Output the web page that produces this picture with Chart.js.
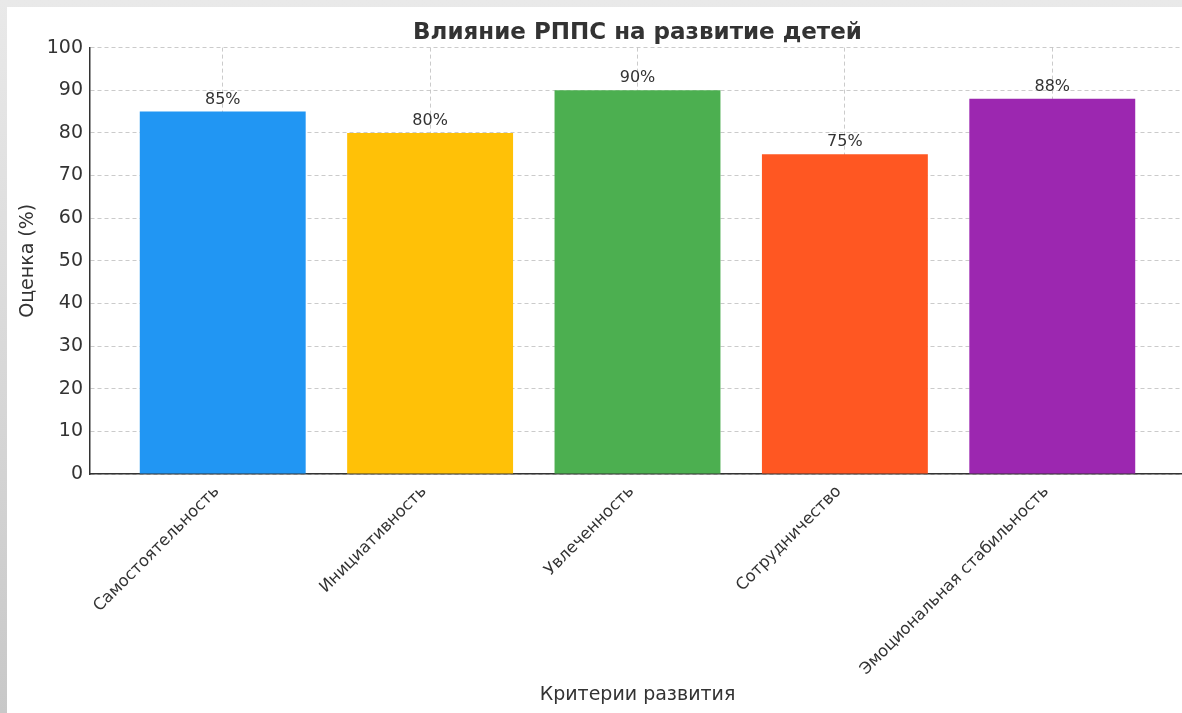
<!DOCTYPE html>
<html>
<head>
<meta charset="utf-8">
<script src="https://cdn.jsdelivr.net/npm/chart.js@4"></script>
<style>
    html, body { margin: 0; padding: 0; width: 1182px; height: 713px; overflow: hidden; }
    body { background: linear-gradient(to bottom, #e9e9e9, #c8c8c8); position: relative; }
    #panel { position: absolute; left: 7px; top: 7px; width: 1190px; height: 706px; background: #fff; }
    #myChart { display: block; }
</style>
</head>
<body>
<div id="panel"><canvas id="myChart" width="1190" height="706"></canvas></div>
<script>
var categories = ['Самостоятельность', 'Инициативность', 'Увлеченность', 'Сотрудничество', 'Эмоциональная стабильность'];
var scores = [85, 80, 90, 75, 88];
var barColors = ['#2196F3', '#FFC107', '#4CAF50', '#FF5722', '#9C27B0'];
var yTicks = [0, 10, 20, 30, 40, 50, 60, 70, 80, 90, 100];

var textColor = '#333333';
var font = 'DejaVu Sans';

// value labels above the bars
var barLabels = {
    id: 'barLabels',
    afterDatasetsDraw: function (chart) {
        var ctx = chart.ctx;
        var meta = chart.getDatasetMeta(0);
        ctx.save();
        ctx.font = '16px "' + font + '"';
        ctx.fillStyle = textColor;
        ctx.textAlign = 'center';
        ctx.textBaseline = 'alphabetic';
        meta.data.forEach(function (bar, i) {
            ctx.fillText(scores[i] + '%', bar.x, bar.y - 8);
        });
        ctx.restore();
    }
};

var points = [];
for (var i = 0; i < scores.length; i++) {
    points.push({x: i, y: scores[i]});
}

var ctx = document.getElementById('myChart');
new Chart(ctx, {
    type: 'bar',
    data: {
        datasets: [{
            data: points,
            backgroundColor: barColors,
            borderWidth: 0,
            barPercentage: 0.8,
            categoryPercentage: 1.0
        }]
    },
    options: {
        responsive: false,
        maintainAspectRatio: false,
        animation: false,
        devicePixelRatio: 1,
        layout: { padding: { left: 0, right: 12, top: 0, bottom: 0 } },
        plugins: {
            legend: { display: false },
            tooltip: { enabled: false },
            title: {
                display: true,
                text: 'Влияние РППС на развитие детей',
                color: textColor,
                fullSize: false,
                font: { family: font, size: 23, weight: 'bold', lineHeight: 1.2 },
                padding: { top: 12, bottom: 1 }
            }
        },
        scales: {
            x: {
                type: 'linear',
                min: -0.64,
                max: 4.64,
                offset: false,
                z: 1,
                afterBuildTicks: function (axis) {
                    axis.ticks = categories.map(function (c, i) { return {value: i}; });
                },
                afterFit: function (axis) { axis.height = 239; },
                ticks: {
                    autoSkip: false,
                    minRotation: 45,
                    maxRotation: 45,
                    padding: 8,
                    labelOffset: -6,
                    color: textColor,
                    font: { family: font, size: 16.3 },
                    callback: function (value) { return categories[value]; }
                },
                grid: {
                    offset: false,
                    drawTicks: false,
                    color: 'rgba(185,185,185,0.75)',
                    lineWidth: 1
                },
                border: { display: true, color: '#333', width: 1.5, dash: [4, 3] },
                title: {
                    display: true,
                    text: 'Критерии развития',
                    color: textColor,
                    font: { family: font, size: 19 },
                    padding: { top: 0, bottom: 7 }
                }
            },
            y: {
                min: 0,
                max: 100,
                z: 1,
                afterBuildTicks: function (axis) {
                    axis.ticks = yTicks.map(function (v) { return {value: v}; });
                },
                afterFit: function (axis) { axis.width = 83; },
                ticks: {
                    padding: 7,
                    color: textColor,
                    font: { family: font, size: 19 }
                },
                grid: {
                    drawTicks: false,
                    color: 'rgba(185,185,185,0.75)',
                    lineWidth: 1
                },
                border: { display: true, color: '#333', width: 1.5, dash: [4, 3] },
                title: {
                    display: true,
                    text: 'Оценка (%)',
                    color: textColor,
                    font: { family: font, size: 19 },
                    padding: { top: 10, bottom: 0 }
                }
            }
        }
    },
    plugins: [barLabels]
});
</script>
</body>
</html>
